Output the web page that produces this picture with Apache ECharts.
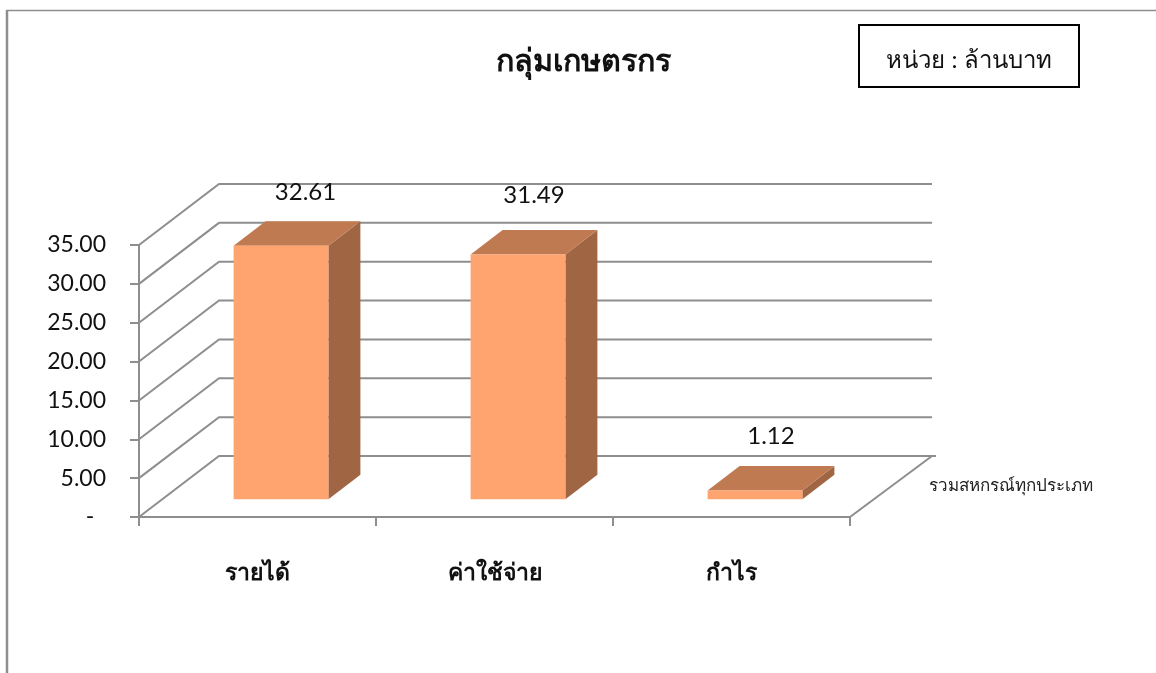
<!DOCTYPE html>
<html><head><meta charset="utf-8">
<style>html,body{margin:0;padding:0;background:#fff}#c{width:1156px;height:673px}</style>
<script src="https://cdn.jsdelivr.net/npm/echarts@6/dist/echarts.min.js"></script>
</head><body><div id="c"></div>
<script>
const categories = ['รายได้', 'ค่าใช้จ่าย', 'กำไร'];
const seriesName = 'รวมสหกรณ์ทุกประเภท';
const values = [32.61, 31.49, 1.12];
const yTicks = [0, 5, 10, 15, 20, 25, 30, 35];
const titleText = 'กลุ่มเกษตรกร';
const unitText = 'หน่วย : ล้านบาท';

const FONT = 'Lato, "Noto Sans", sans-serif';
const LINE = '#8e8e8e';
const WALL_DX = 80, WALL_DY = -61;     // depth of the 3D box
const WALL_END = 2;
const BAR_DX = 23.5, BAR_DY = -17.8;   // bar's front face inside the floor
const BAR_DEPTH_X = 32, BAR_DEPTH_Y = -24.5;
const LABEL_NUDGE = [[24.5, -53.5], [16, -59], [16, -54]];

const chart = echarts.init(document.getElementById('c'), null, {renderer: 'canvas'});

function renderWall(params, api) {
  const tick = api.value(1);
  const cs = params.coordSys;
  const y = api.coord([0, tick])[1];
  const x0 = cs.x, x1 = cs.x + cs.width;
  const st = {stroke: LINE, lineWidth: 2, fill: null};
  const kids = [{
    type: 'polyline',
    shape: {points: [[x0, y], [x0 + WALL_DX, y + WALL_DY], [x1 + WALL_DX + WALL_END + (tick === 0 ? 4 : 0), y + WALL_DY]]},
    style: st
  }];
  if (tick === 0) {
    kids.push({type: 'line', shape: {x1: x1, y1: y, x2: x1 + WALL_DX + WALL_END, y2: y + WALL_DY}, style: st});
  }
  return {type: 'group', children: kids};
}

function renderBar(params, api) {
  const idx = api.value(0), val = api.value(1);
  const base = api.coord([idx, 0]);
  const top = api.coord([idx, val]);
  const w = api.size([1, 0])[0] * 0.4;
  const l = base[0] + BAR_DX - w / 2, r = l + w;
  const b = base[1] + BAR_DY, t = top[1] + BAR_DY;
  const dx = BAR_DEPTH_X, dy = BAR_DEPTH_Y;
  const nudge = LABEL_NUDGE[idx];
  return {type: 'group', children: [
    {type: 'polygon', shape: {points: [[r, t], [r + dx, t + dy], [r + dx, b + dy], [r, b]]}, style: {fill: '#a06643'}},
    {type: 'polygon', shape: {points: [[l, t], [l + dx, t + dy], [r + dx, t + dy], [r, t]]}, style: {fill: '#c07a52'}},
    {type: 'rect', shape: {x: l, y: t, width: w, height: b - t}, style: {fill: '#ffa46e'}},
    {type: 'text', style: {
      text: val.toFixed(2), x: (l + r) / 2 + nudge[0], y: t + nudge[1],
      textAlign: 'center', textVerticalAlign: 'middle',
      font: '24px ' + FONT, fill: '#111'
    }}
  ]};
}

chart.setOption({
  animation: false,
  backgroundColor: '#fff',
  textStyle: {fontFamily: FONT},
  title: {
    text: titleText, left: 578, top: 41, textAlign: 'center',
    textStyle: {fontFamily: FONT, fontSize: 30.5, fontWeight: 'bold', color: '#111'}
  },
  legend: {
    left: 919, top: 472, itemWidth: 0, itemHeight: 0, itemGap: 0, icon: 'rect',
    data: [seriesName], selectedMode: false,
    textStyle: {fontFamily: FONT, fontSize: 17, color: '#222'}
  },
  grid: {left: 139, right: 306, top: 245, bottom: 156, containLabel: false},
  xAxis: {
    type: 'category', data: categories,
    axisLine: {lineStyle: {color: LINE, width: 2}},
    axisTick: {show: true, length: 9, lineStyle: {color: LINE, width: 2}},
    axisLabel: {margin: 44, fontFamily: FONT, fontSize: 23, fontWeight: 'bold', color: '#111'},
    splitLine: {show: false}
  },
  yAxis: {
    type: 'value', min: 0, max: 35, interval: 5,
    axisLine: {show: true, lineStyle: {color: LINE, width: 2}},
    axisTick: {show: true, length: 9, lineStyle: {color: LINE, width: 2}},
    axisLabel: {
      margin: 33, fontFamily: FONT, fontSize: 23, color: '#111',
      formatter: v => v === 0 ? '-\u00a0\u00a0' : v.toFixed(2)
    },
    splitLine: {show: false}
  },
  series: [
    {type: 'custom', name: 'wall', silent: true, clip: false, z: 1,
     renderItem: renderWall, data: yTicks.map(t => [0, t]), encode: {x: 0, y: 1}},
    {type: 'custom', name: seriesName, silent: true, clip: false, z: 2,
     renderItem: renderBar, data: values.map((v, i) => [i, v]), encode: {x: 0, y: 1},
     itemStyle: {color: '#ffa46e'}}
  ],
  graphic: [
    {type: 'line', shape: {x1: 6, y1: 10.5, x2: 1156, y2: 10.5}, style: {stroke: '#8e8e8e', lineWidth: 1.5}, silent: true},
    {type: 'line', shape: {x1: 7, y1: 10, x2: 7, y2: 673}, style: {stroke: '#8e8e8e', lineWidth: 2.5}, silent: true},
    {type: 'rect', shape: {x: 859, y: 25, width: 220, height: 62}, style: {fill: '#fff', stroke: '#000', lineWidth: 2}, silent: true},
    {type: 'text', x: 969, y: 60, style: {text: unitText, textAlign: 'center', textVerticalAlign: 'middle', font: '24px ' + FONT, fill: '#111'}, silent: true}
  ]
});
</script></body></html>
